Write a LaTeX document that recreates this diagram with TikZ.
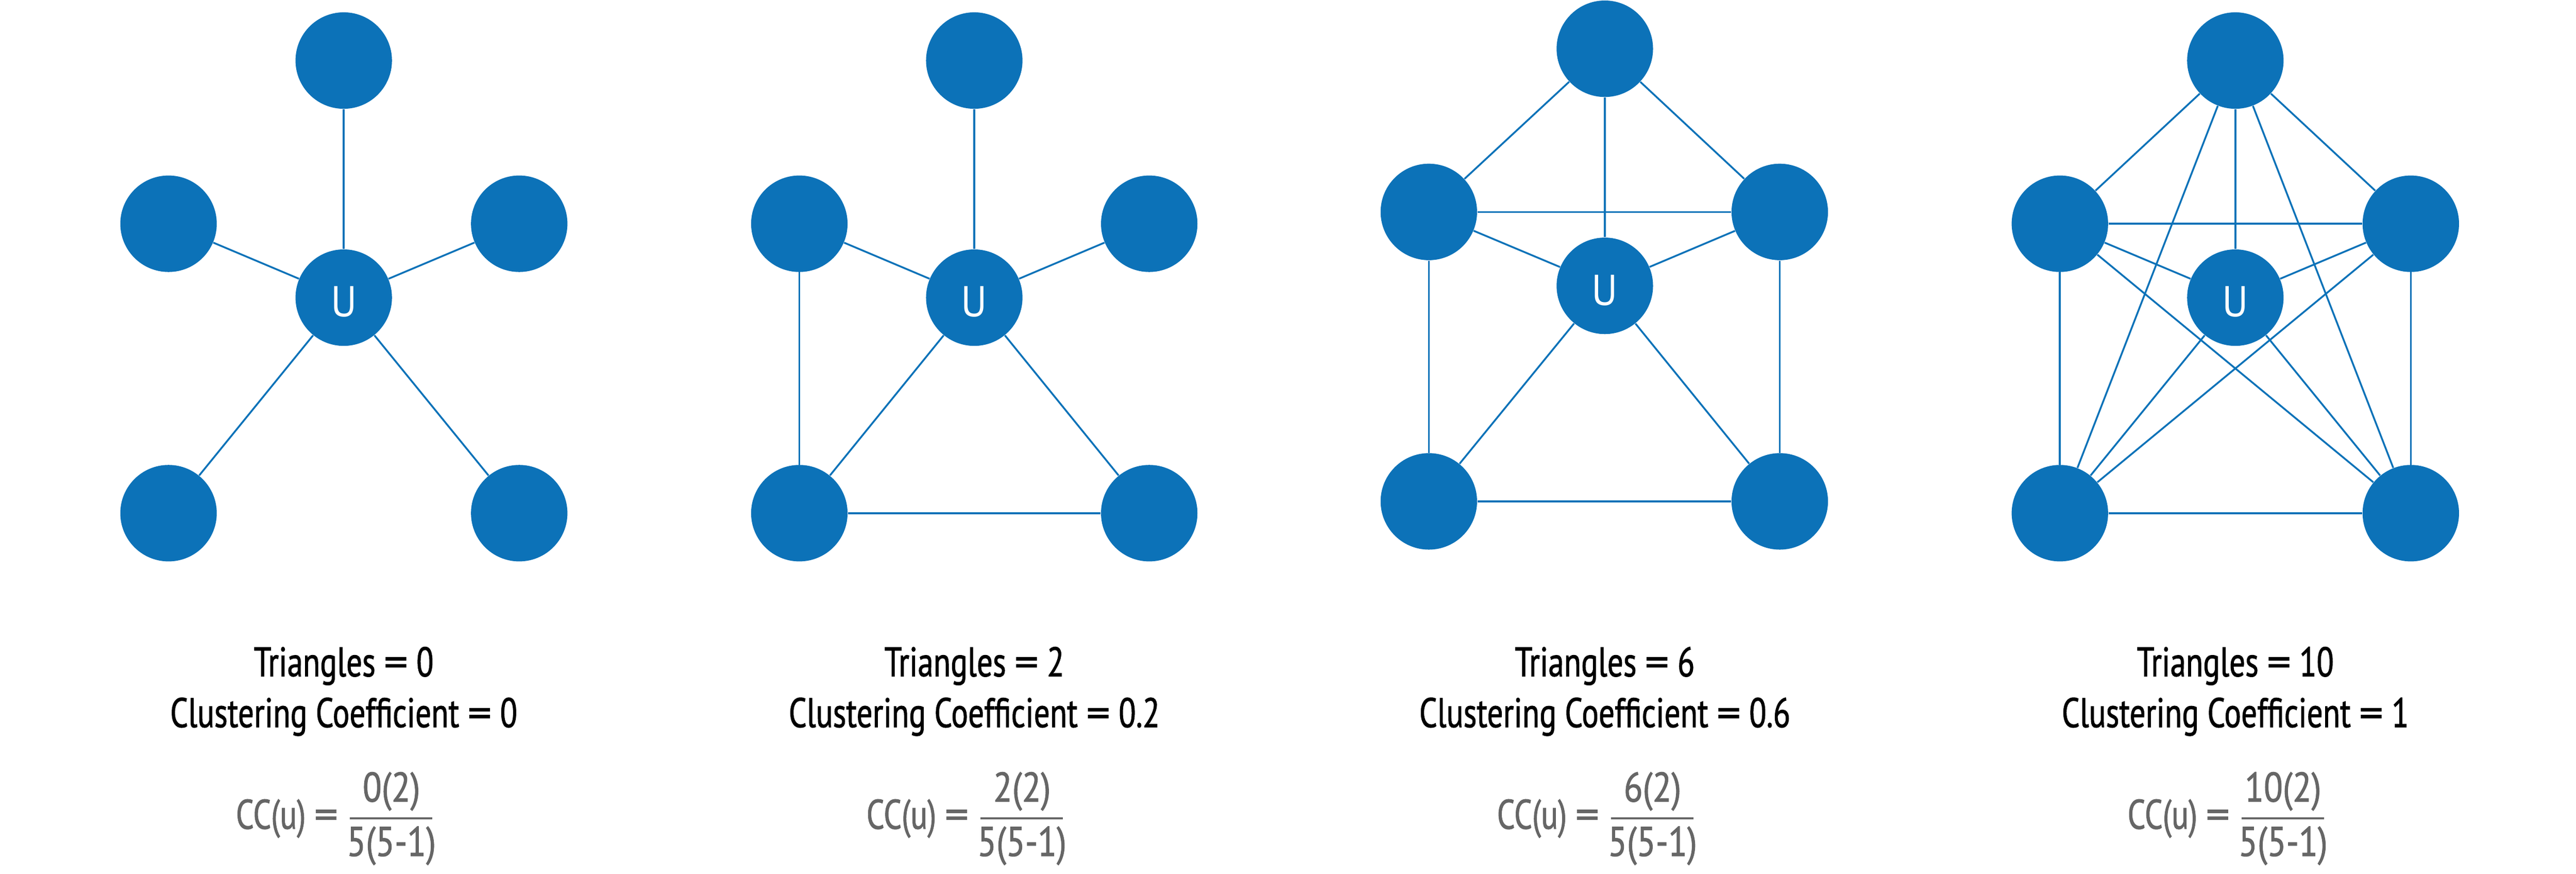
\documentclass[tikz,border=0pt]{standalone}
\usepackage{fontspec}
\setmainfont{PT Sans}[FakeStretch=0.76, FakeBold=1.2]
\newfontfamily\widefont{PT Sans}[FakeStretch=0.92]
\newfontfamily\fracfont{PT Sans}[FakeStretch=0.84, FakeBold=1.2]
\newfontfamily\eqfont{PT Sans}[FakeStretch=1.15, FakeBold=1.2]
\newcommand{\eqsign}{{\eqfont=}}
\usepackage{tikz}
\definecolor{nodeblue}{HTML}{0C72B8}
\definecolor{formulagray}{HTML}{666666}
\usetikzlibrary{positioning, shapes}
\tikzstyle{edge} = [draw=nodeblue, line width=1pt]

\begin{document}
\begin{tikzpicture}
        \tikzstyle{every node}=[font=\fontsize{23}{28}\selectfont, inner sep=0pt]
        \tikzstyle{vertex} = [circle, fill=nodeblue, minimum size=1.88cm, text=white,
                              font=\widefont\fontsize{24}{28}\selectfont, text height=0.75cm, text depth=0pt]
        \tikzstyle{caption} = [anchor=base]
        \tikzstyle{formula} = [anchor=base east, text=formulagray]
        \tikzstyle{fracpart} = [anchor=base, text=formulagray, font=\fracfont\fontsize{23}{28}\selectfont]
        \tikzstyle{fracbar} = [draw=formulagray, line width=1.1pt]

        \useasboundingbox (0,0) rectangle (50.21,-17.03);

        % graph 1: star, no triangles
        \node[vertex](top1) at (6.70,-1.18) {};
        \node[vertex](lft1) at (3.285,-4.36) {};
        \node[vertex](rgt1) at (10.12,-4.36) {};
        \node[vertex](u1) at (6.70,-5.80) {U};
        \node[vertex](bl1) at (3.285,-10.00) {};
        \node[vertex](br1) at (10.12,-10.00) {};

        \draw[edge] (u1) -- (top1);
        \draw[edge] (u1) -- (lft1);
        \draw[edge] (u1) -- (rgt1);
        \draw[edge] (u1) -- (bl1);
        \draw[edge] (u1) -- (br1);

        \node[caption](tri1) at (6.70,-13.18) {Triangles \eqsign{} 0};
        \node[caption](clu1) at (6.70,-14.17) {Clustering Coefficient \eqsign{} 0};
        \node[formula](cc1) at (6.60,-16.15) {CC(u) \eqsign};
        \node[fracpart](num1) at (7.63,-15.62) {0(2)};
        \node[fracpart](den1) at (7.63,-16.68) {5(5-1)};
        \draw[fracbar] (6.82,-15.95) -- (8.43,-15.95);

        % graph 2: two triangles
        \node[vertex](top2) at (18.99,-1.18) {};
        \node[vertex](lft2) at (15.58,-4.36) {};
        \node[vertex](rgt2) at (22.40,-4.36) {};
        \node[vertex](u2) at (18.99,-5.80) {U};
        \node[vertex](bl2) at (15.58,-10.00) {};
        \node[vertex](br2) at (22.40,-10.00) {};

        \draw[edge] (u2) -- (top2);
        \draw[edge] (u2) -- (lft2);
        \draw[edge] (u2) -- (rgt2);
        \draw[edge] (u2) -- (bl2);
        \draw[edge] (u2) -- (br2);
        \draw[edge] (lft2) -- (bl2);
        \draw[edge] (bl2) -- (br2);

        \node[caption](tri2) at (18.99,-13.18) {Triangles \eqsign{} 2};
        \node[caption](clu2) at (18.99,-14.17) {Clustering Coefficient \eqsign{} 0.2};
        \node[formula](cc2) at (18.89,-16.15) {CC(u) \eqsign};
        \node[fracpart](num2) at (19.92,-15.62) {2(2)};
        \node[fracpart](den2) at (19.92,-16.68) {5(5-1)};
        \draw[fracbar] (19.11,-15.95) -- (20.72,-15.95);

        % graph 3: six triangles
        \node[vertex](top3) at (31.28,-0.95) {};
        \node[vertex](lft3) at (27.85,-4.13) {};
        \node[vertex](rgt3) at (34.69,-4.13) {};
        \node[vertex](u3) at (31.28,-5.57) {U};
        \node[vertex](bl3) at (27.85,-9.77) {};
        \node[vertex](br3) at (34.69,-9.77) {};

        \draw[edge] (u3) -- (top3);
        \draw[edge] (u3) -- (lft3);
        \draw[edge] (u3) -- (rgt3);
        \draw[edge] (u3) -- (bl3);
        \draw[edge] (u3) -- (br3);
        \draw[edge] (top3) -- (lft3);
        \draw[edge] (top3) -- (rgt3);
        \draw[edge] (lft3) -- (rgt3);
        \draw[edge] (lft3) -- (bl3);
        \draw[edge] (rgt3) -- (br3);
        \draw[edge] (bl3) -- (br3);

        \node[caption](tri3) at (31.28,-13.18) {Triangles \eqsign{} 6};
        \node[caption](clu3) at (31.28,-14.17) {Clustering Coefficient \eqsign{} 0.6};
        \node[formula](cc3) at (31.18,-16.15) {CC(u) \eqsign};
        \node[fracpart](num3) at (32.21,-15.62) {6(2)};
        \node[fracpart](den3) at (32.21,-16.68) {5(5-1)};
        \draw[fracbar] (31.40,-15.95) -- (33.01,-15.95);

        % graph 4: complete, every pair linked
        \node[vertex](top4) at (43.57,-1.18) {};
        \node[vertex](lft4) at (40.15,-4.36) {};
        \node[vertex](rgt4) at (46.99,-4.36) {};
        \node[vertex](u4) at (43.57,-5.80) {U};
        \node[vertex](bl4) at (40.15,-10.00) {};
        \node[vertex](br4) at (46.99,-10.00) {};

        \draw[edge] (u4) -- (top4);
        \draw[edge] (u4) -- (lft4);
        \draw[edge] (u4) -- (rgt4);
        \draw[edge] (u4) -- (bl4);
        \draw[edge] (u4) -- (br4);
        \draw[edge] (top4) -- (lft4);
        \draw[edge] (top4) -- (rgt4);
        \draw[edge] (top4) -- (bl4);
        \draw[edge] (top4) -- (br4);
        \draw[edge] (lft4) -- (rgt4);
        \draw[edge] (lft4) -- (bl4);
        \draw[edge] (lft4) -- (br4);
        \draw[edge] (rgt4) -- (bl4);
        \draw[edge] (rgt4) -- (br4);
        \draw[edge] (bl4) -- (br4);

        \node[caption](tri4) at (43.57,-13.18) {Triangles \eqsign{} 10};
        \node[caption](clu4) at (43.57,-14.17) {Clustering Coefficient \eqsign{} 1};
        \node[formula](cc4) at (43.47,-16.15) {CC(u) \eqsign};
        \node[fracpart](num4) at (44.50,-15.62) {10(2)};
        \node[fracpart](den4) at (44.50,-16.68) {5(5-1)};
        \draw[fracbar] (43.69,-15.95) -- (45.30,-15.95);

\end{tikzpicture}
\end{document}
